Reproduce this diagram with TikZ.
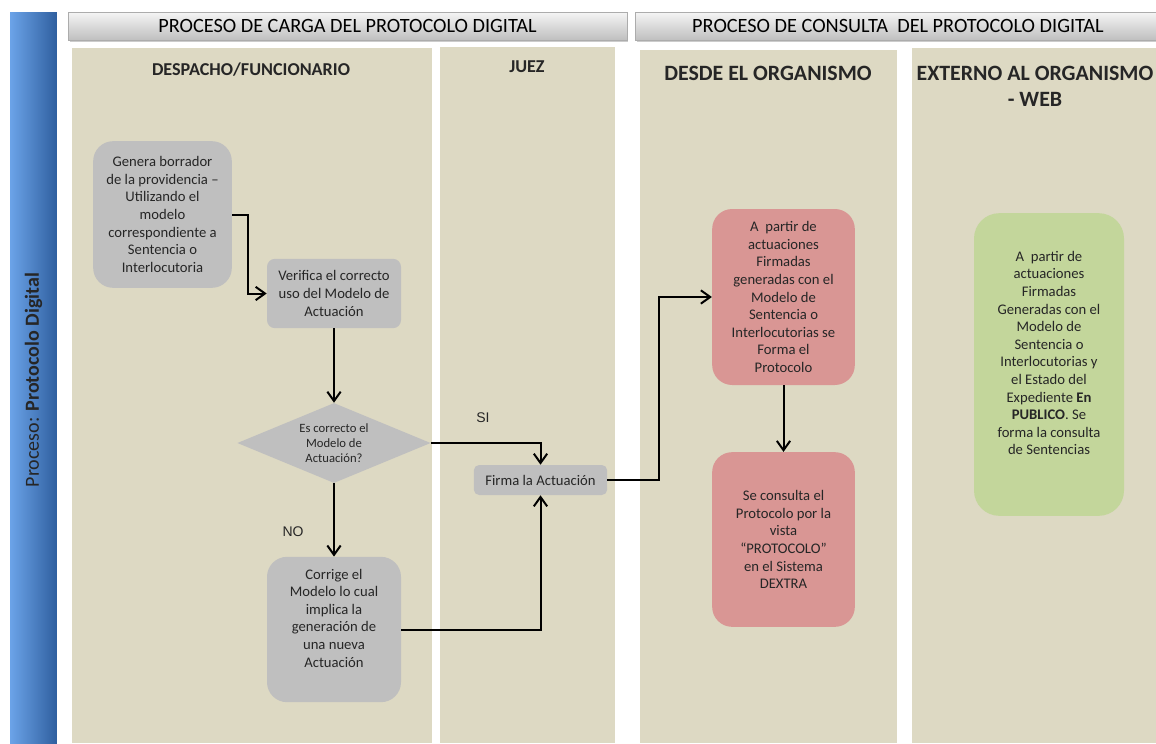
\documentclass[tikz,border=0pt]{standalone}
\usepackage{fontspec}
\setmainfont{Carlito}
\newfontfamily\arialfont{Liberation Sans}
\usetikzlibrary{arrows.meta,shapes.geometric,shadows}
\definecolor{carril}{HTML}{DDD9C3}
\definecolor{gris}{HTML}{BFBFBF}
\definecolor{rosa}{HTML}{D99694}
\definecolor{verde}{HTML}{C3D69B}
\definecolor{texto}{HTML}{262626}
\definecolor{azulclaro}{HTML}{6BA3E8}
\definecolor{azul}{HTML}{4683D0}
\definecolor{azuloscuro}{HTML}{2F5F9F}
\begin{document}
\begin{tikzpicture}[x=0.75pt,y=-0.75pt,
   caja/.style={fill=#1,rounded corners=15pt,align=center,inner sep=0pt,
      text=texto,font=\fontsize{11}{13.2}\selectfont},
   caja/.default=gris,
   cabecera/.style={top color=gray!8,bottom color=gray!50,draw=gray!65,
      drop shadow={shadow xshift=1pt,shadow yshift=-1.5pt,opacity=0.4},
      minimum height=21pt,inner sep=0pt,font=\fontsize{15.2}{17}\selectfont},
   titulo/.style={font=\bfseries\fontsize{#1}{19.5}\selectfont,align=center,text=texto},
   etiqueta/.style={font=\arialfont\fontsize{10.5}{12}\selectfont,text=texto},
   flecha/.style={line width=1.5pt,-{Straight Barb[length=7pt,width=10pt]}}]
   \useasboundingbox (0,0) rectangle (1156,743);

   % carriles
   \fill[carril] (72,48) rectangle (432,743);
   \fill[carril] (440,47) rectangle (615,743);
   \fill[carril] (640,50) rectangle (897,743);
   \fill[carril] (912,48) rectangle (1156,743);

   % barra del proceso
   \node[left color=azulclaro,middle color=azul,right color=azuloscuro,
      minimum width=35pt,minimum height=552pt,inner sep=0pt] (barra) at (33.5,380) {};
   \node[rotate=90,font=\fontsize{15}{17}\selectfont,text=texto] (proceso) at (barra)
      {Proceso: \textbf{Protocolo Digital}};

   % cabeceras
   \node[cabecera,minimum width=419pt] (carga) at (347.5,26)
      {PROCESO DE CARGA DEL PROTOCOLO DIGITAL};
   \node[cabecera,minimum width=394pt] (consulta) at (898,26)
      {PROCESO DE CONSULTA\ \ DEL PROTOCOLO DIGITAL};

   % titulos de los carriles
   \node[titulo=13.6] (despacho) at (251,70) {DESPACHO/FUNCIONARIO};
   \node[titulo=13.6] (juez) at (527,67) {JUEZ};
   \node[titulo=16.4] (desde) at (768,73) {DESDE EL ORGANISMO};
   \node[titulo=16.4] (externo) at (1035,86) {EXTERNO AL ORGANISMO\\- WEB};

   % pasos
   \node[caja,minimum width=104pt,minimum height=110pt] (genera) at (162.5,214.5)
      {Genera borrador\\de la providencia –\\Utilizando el\\modelo\\correspondiente a\\Sentencia o\\Interlocutoria};
   \node[caja,rounded corners=6pt,minimum width=100.5pt,minimum height=52pt] (verifica) at (334,293.5)
      {Verifica el correcto\\uso del Modelo de\\Actuación};
   \node[diamond,fill=gris,aspect=2.4,inner sep=0pt,minimum width=145pt,minimum height=60pt,
      align=center,text=texto,font=\fontsize{9.5}{11.3}\selectfont] (decide) at (334,443)
      {Es correcto el\\Modelo de\\Actuación?};
   \node[caja,minimum width=100.5pt,minimum height=109pt] (corrige) at (334,629.5)
      {Corrige el\\Modelo lo cual\\implica la\\generación de\\una nueva\\Actuación\\\strut};
   \node[caja,rounded corners=4pt,minimum width=100pt,minimum height=22.5pt] (firma) at (540.5,480)
      {Firma la Actuación};
   \node[caja=rosa,minimum width=107pt,minimum height=132pt] (forma) at (783.5,297)
      {A\ \ partir de\\actuaciones\\Firmadas\\generadas con el\\Modelo de\\Sentencia o\\Interlocutorias se\\Forma el\\Protocolo};
   \node[caja=rosa,minimum width=107pt,minimum height=131pt] (vista) at (783.5,539.5)
      {Se consulta el\\Protocolo por la\\vista\\“PROTOCOLO”\\en el Sistema\\DEXTRA};
   \node[caja=verde,rounded corners=19pt,minimum width=112.5pt,minimum height=227pt] (web) at (1049,364.5)
      {A\ \ partir de\\actuaciones\\Firmadas\\Generadas con el\\Modelo de\\Sentencia o\\Interlocutorias y\\el Estado del\\Expediente \textbf{En}\\\textbf{PUBLICO}. Se\\forma la consulta\\de Sentencias\\\strut};

   \node[etiqueta] (si) at (483,418) {SI};
   \node[etiqueta] (no) at (293,532) {NO};

   % conectores
   \draw[flecha] (genera.east) -- ++(16,0) |- (verifica.west);
   \draw[flecha] (verifica.south) -- (decide.north);
   \draw[flecha] (decide.east) -| (firma.north);
   \draw[flecha] (decide.south) -- (corrige.north);
   \draw[flecha] (corrige.east) -| (firma.south);
   \draw[flecha] (firma.east) -- ++(52,0) |- (forma.west);
   \draw[flecha] (forma.south) -- (vista.north);

 \end{tikzpicture}
\end{document}
